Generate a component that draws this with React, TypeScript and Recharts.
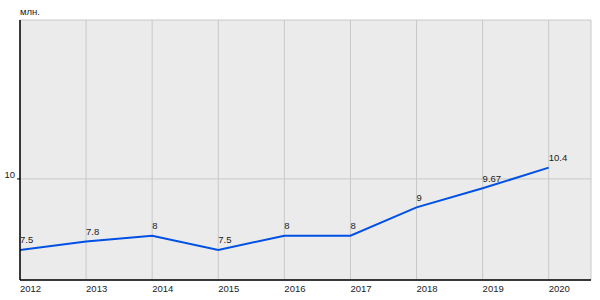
import React from 'react';
import { LineChart, Line, XAxis, YAxis, CartesianGrid, LabelList } from 'recharts';

const years = [2012, 2013, 2014, 2015, 2016, 2017, 2018, 2019, 2020];
const values = [7.5, 7.8, 8, 7.5, 8, 8, 9, 9.67, 10.4];
const valueLabels = ['7.5', '7.8', '8', '7.5', '8', '8', '9', '9.67', '10.4'];
const yTicks = [10];
const unitLabel = 'млн.';

const data = years.map((year, i) => ({ year, value: values[i], label: valueLabels[i] }));

const FONT = '"Liberation Sans", Arial, sans-serif';

const XTick = (props: any) => {
  const { x, y, payload } = props;
  return (
    <text x={x} y={y + 11.5} fontSize={9.5} fontFamily={FONT} fill="#222" textAnchor="start">
      {payload.value}
    </text>
  );
};

const YTick = (props: any) => {
  const { x, y, payload } = props;
  return (
    <text x={x - 2} y={y - 0.5} fontSize={9.5} fontFamily={FONT} fill="#222" textAnchor="end">
      {payload.value}
    </text>
  );
};

const PointLabel = (props: any) => {
  const { x, y, index } = props;
  return (
    <text x={x} y={y - 6.5} fontSize={9.5} fontFamily={FONT} fill="#222" textAnchor="start">
      {valueLabels[index]}
    </text>
  );
};

export default function App() {
  return (
    <div style={{ position: 'absolute', left: 0, top: 0, width: 600, height: 300, background: '#fff' }}>
      <div
        style={{
          position: 'absolute',
          left: 20,
          top: 6,
          fontSize: 9.5,
          fontFamily: FONT,
          color: '#222',
          lineHeight: '12px',
        }}
      >
        {unitLabel}
      </div>
      <LineChart
        width={600}
        height={300}
        data={data}
        margin={{ top: 20, right: 9, bottom: 0, left: 0 }}
      >
        <CartesianGrid fill="#ebebeb" stroke="#c8c8c8" strokeWidth={1} />
        <XAxis
          dataKey="year"
          type="number"
          domain={[2012, 2020.64]}
          ticks={years}
          allowDataOverflow
          tickLine={false}
          tickSize={0}
          tickMargin={0}
          axisLine={{ stroke: '#000', strokeWidth: 1.5 }}
          tick={<XTick />}
          height={20}
        />
        <YAxis
          type="number"
          domain={[6.44, 15.6]}
          ticks={yTicks}
          allowDataOverflow
          width={20}
          tickSize={3}
          tickMargin={0}
          tickLine={{ stroke: '#000' }}
          axisLine={{ stroke: '#000', strokeWidth: 1.5 }}
          tick={<YTick />}
        />
        <Line
          dataKey="value"
          stroke="#0050e6"
          strokeWidth={2}
          dot={false}
          activeDot={false}
          isAnimationActive={false}
        >
          <LabelList dataKey="label" content={<PointLabel />} />
        </Line>
      </LineChart>
    </div>
  );
}
